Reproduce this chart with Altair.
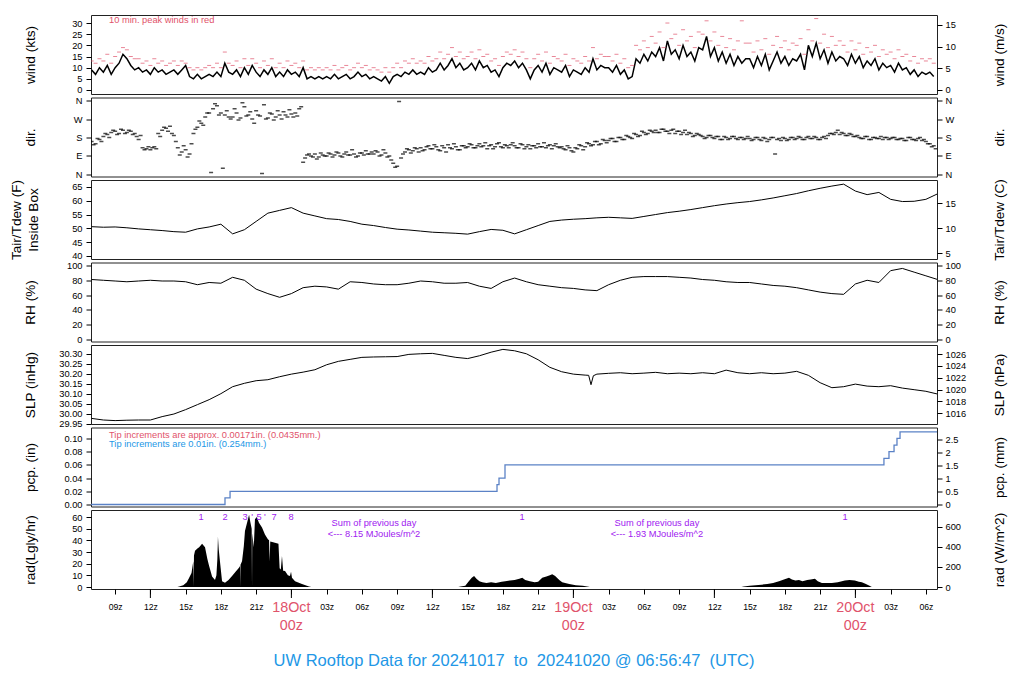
import altair as alt
import pandas as pd

# ---------------- data (hours since 17 Oct 00z UTC) ----------------
T_START, T_END = 6.946, 78.946

# wind speed (kts), 20-minute samples starting 07z 17 Oct
wind_kts = [
    9, 7, 10, 8, 11, 7, 10, 12, 16, 14, 11, 9,
    10, 8, 9, 7, 10, 8, 9, 7, 8, 9, 7, 9,
    11, 6, 5, 7, 5, 6, 7, 6, 8, 6, 12, 8,
    7, 9, 6, 10, 7, 11, 8, 6, 9, 7, 10, 6,
    8, 6, 9, 7, 8, 6, 10, 5, 6, 5, 6, 5,
    6, 5, 7, 5, 6, 7, 5, 6, 8, 6, 7, 5,
    6, 5, 4, 6, 3, 6, 7, 6, 8, 7, 9, 7,
    8, 7, 10, 8, 9, 12, 9, 11, 14, 10, 12, 9,
    10, 12, 9, 13, 10, 11, 8, 9, 6, 10, 12, 11,
    13, 10, 12, 9, 5, 9, 11, 8, 12, 7, 10, 9,
    8, 11, 6, 9, 8, 7, 10, 8, 14, 9, 11, 10,
    10, 8, 11, 7, 9, 5, 6, 14, 12, 16, 13, 17,
    15, 19, 13, 22, 16, 18, 14, 20, 15, 17, 13, 19,
    18, 24, 15, 19, 13, 17, 12, 16, 11, 15, 12, 14,
    14, 10, 15, 11, 16, 9, 13, 17, 12, 15, 11, 14,
    13, 16, 9, 20, 15, 21, 14, 18, 12, 17, 13, 15,
    14, 11, 16, 12, 15, 10, 13, 11, 14, 9, 12, 10,
    11, 8, 12, 9, 10, 7, 9, 6, 8, 7, 8, 6,
]
# 10-min peak winds (kts), same sample times
gust_kts = [
    13, 12, 14, 13, 16, 12, 15, 17, 19, 18, 15, 14,
    14, 12, 13, 11, 14, 12, 13, 11, 12, 13, 11, 13,
    12, 10, 9, 10, 9, 10, 11, 10, 12, 10, 17, 12,
    11, 13, 10, 14, 11, 14, 12, 10, 13, 11, 14, 10,
    12, 10, 13, 11, 12, 10, 13, 9, 10, 9, 10, 9,
    10, 9, 11, 9, 10, 11, 9, 10, 12, 10, 11, 9,
    10, 9, 8, 10, 8, 10, 12, 10, 13, 12, 14, 12,
    13, 12, 15, 13, 14, 17, 14, 16, 19, 15, 17, 14,
    15, 17, 14, 18, 15, 16, 13, 14, 11, 15, 17, 16,
    18, 15, 17, 14, 10, 14, 16, 13, 17, 12, 15, 14,
    13, 16, 11, 14, 13, 12, 15, 13, 19, 14, 16, 15,
    15, 13, 16, 12, 14, 10, 11, 20, 18, 22, 19, 24,
    21, 26, 19, 30, 23, 25, 20, 27, 22, 24, 19, 26,
    25, 31, 22, 26, 20, 24, 19, 23, 18, 22, 31, 21,
    21, 17, 22, 18, 23, 16, 20, 24, 19, 22, 18, 21,
    20, 23, 16, 27, 22, 32, 21, 25, 19, 24, 20, 22,
    20, 17, 22, 18, 21, 16, 19, 17, 20, 15, 18, 16,
    17, 14, 18, 15, 16, 13, 15, 12, 14, 13, 14, 12,
]
# wind direction (deg), samples at :00/:20/:40 and at :10/:30/:50
dir_a = [
    160, 150, 170, 185, 195, 205, 210, 200, 215, 205, 210, 200,
    170, 130, 125, 120, 135, 200, 215, 225, 235, 190, 130, 110,
    120, 100, 200, 230, 250, 280, 300, 320, 335, 300, 290, 280,
    280, 300, 275, 330, 290, 270, 310, 285, 340, 275, 295, 280,
    290, 305, 280, 295, 300, 320, 60, 95, 90, 100, 85, 95,
    90, 100, 95, 105, 85, 110, 95, 100, 90, 105, 115, 100,
    100, 110, 95, 105, 90, 55, 40, 80, 110, 120, 115, 125,
    130, 120, 140, 125, 135, 115, 130, 145, 125, 135, 120, 140,
    135, 145, 130, 150, 140, 125, 145, 135, 155, 130, 140, 145,
    140, 130, 145, 135, 125, 140, 150, 135, 130, 145, 140, 135,
    135, 120, 130, 110, 125, 140, 135, 150, 145, 160, 150, 165,
    165, 175, 160, 180, 170, 185, 175, 195, 190, 205, 200, 210,
    215, 205, 220, 210, 215, 200, 210, 205, 195, 200, 190, 195,
    185, 180, 190, 175, 185, 170, 180, 175, 185, 170, 180, 175,
    175, 170, 180, 165, 175, 170, 180, 170, 165, 175, 170, 180,
    175, 180, 170, 185, 175, 180, 170, 185, 190, 200, 205, 195,
    200, 190, 195, 185, 180, 175, 185, 170, 180, 175, 170, 180,
    175, 180, 170, 175, 165, 180, 170, 175, 165, 160, 150, 140,
]
dir_b = [
    145, 175, 160, 200, 180, 215, 195, 220, 200, 215, 195, 185,
    190, 120, 135, 130, 125, 185, 230, 210, 200, 160, 95, 140,
    85, 150, 220, 260, 240, 300, 10, 345, 290, 30, 310, 270,
    320, 265, 350, 285, 305, 250, 290, 5, 270, 300, 265, 310,
    270, 290, 315, 280, 285, 330, 80, 100, 85, 75, 105, 90,
    105, 85, 110, 90, 100, 95, 120, 85, 105, 95, 100, 110,
    115, 90, 120, 85, 70, 35, 355, 100, 125, 105, 130, 110,
    115, 135, 125, 145, 120, 140, 110, 130, 150, 120, 140, 130,
    150, 130, 140, 135, 155, 140, 125, 150, 135, 145, 130, 155,
    130, 150, 125, 145, 140, 130, 135, 155, 140, 125, 150, 130,
    125, 140, 115, 130, 145, 120, 155, 140, 160, 145, 170, 155,
    175, 160, 180, 170, 190, 180, 200, 185, 210, 195, 215, 205,
    205, 220, 210, 200, 220, 210, 195, 215, 205, 185, 200, 190,
    175, 190, 180, 185, 170, 185, 170, 185, 175, 180, 170, 185,
    165, 180, 170, 180, 160, 180, 100, 175, 180, 165, 180, 170,
    185, 170, 180, 175, 185, 170, 180, 175, 200, 195, 215, 205,
    190, 200, 185, 190, 175, 185, 170, 180, 175, 185, 180, 170,
    180, 170, 175, 165, 180, 170, 165, 180, 170, 150, 135, 125,
]

# hourly air temperature (F) and RH (%), 07z 17 Oct .. 07z 20 Oct
hourly_hours = list(range(7, 80))
temp_f = [
    50.6, 50.4, 50.5, 50.2, 49.8, 49.5, 49.2, 48.8, 48.6, 49.8, 50.5, 51.5,
    48.0, 49.5, 52.5, 55.5, 56.5, 57.5, 55.5, 54.5, 53.5, 53.2, 52.5, 51.5,
    51.0, 50.3, 49.7, 49.4, 49.0, 48.6, 48.4, 48.2, 47.9, 48.8, 49.6, 49.3,
    48.0, 49.5, 51.0, 52.5, 53.0, 53.3, 53.5, 53.8, 54.0, 53.8, 53.6, 54.3,
    55.0, 55.7, 56.2, 56.8, 57.5, 58.2, 58.8, 59.3, 59.7, 60.3, 61.0, 61.8,
    62.6, 63.6, 64.5, 65.3, 66.0, 63.5, 62.2, 63.0, 60.5, 59.7, 59.8, 60.5,
    62.5,
]
rh_pct = [
    81, 80, 79, 78, 79, 80, 79, 79, 78, 74, 77, 76,
    84, 80, 68, 62, 57, 62, 70, 72, 71, 68, 78, 77,
    75, 74, 74, 76, 79, 78, 76, 76, 77, 72, 69, 78,
    83, 78, 74, 72, 70, 69, 67, 66, 74, 80, 84, 85,
    85, 85, 84, 83, 81, 80, 78, 77, 77, 75, 73, 72,
    70, 67, 64, 62, 61, 75, 80, 77, 93, 96, 91, 86,
    81,
]
# sea level pressure (inHg)
slp_hours = list(range(7, 50)) + [49.3, 49.5, 49.7] + list(range(50, 80))
slp_inhg = [
    29.976, 29.968, 29.965, 29.967, 29.968, 29.968, 29.985, 29.998, 30.020,
    30.045, 30.070, 30.100, 30.135, 30.152, 30.165, 30.170, 30.185, 30.198,
    30.208, 30.220, 30.245, 30.262, 30.272, 30.282, 30.284, 30.285, 30.286,
    30.297, 30.300, 30.302, 30.292, 30.282, 30.276, 30.290, 30.308, 30.322,
    30.315, 30.300, 30.270, 30.232, 30.210, 30.198, 30.193,
    30.192, 30.145, 30.190,
    30.198, 30.202, 30.205, 30.200, 30.203, 30.207, 30.200, 30.203, 30.200,
    30.205, 30.200, 30.218, 30.205, 30.200, 30.205, 30.200, 30.203, 30.212,
    30.192, 30.155, 30.130, 30.135, 30.148, 30.138, 30.135, 30.140, 30.128,
    30.120, 30.112, 30.098,
]
# accumulated precipitation (in)
pcp_hours = [6.95, 18.35, 18.78, 41.5, 41.67, 42.18, 74.43, 74.86, 75.29, 75.54, 75.8, 78.95]
pcp_in = [0.0, 0.01, 0.02, 0.03, 0.04, 0.06, 0.07, 0.08, 0.09, 0.10, 0.11, 0.11]

# solar radiation (Langley/hr)
rad_hours = [
    6.95, 14.3, 14.45, 14.8, 15.1, 15.3, 15.5, 15.65, 15.69, 15.71, 15.8, 16.0,
    16.15, 16.4, 16.65, 16.85, 17.0, 17.25, 17.5, 17.62, 17.7, 17.75, 17.82,
    17.92, 18.1, 18.35, 18.65, 18.95, 19.25, 19.54, 19.63, 19.65, 19.67, 19.8,
    19.95, 20.05, 20.25, 20.4, 20.5, 20.62, 20.65, 20.67, 20.8, 20.9, 21.05,
    21.24, 21.5, 21.75, 22.0, 22.1, 22.15, 22.2, 22.6, 22.9, 23.0, 23.1, 23.2,
    23.3, 23.46, 23.7, 23.88, 23.97, 24.05, 24.31, 24.9, 25.5, 25.7,
    38.2, 38.4, 38.8, 39.1, 39.35, 39.55, 39.75, 40.0, 40.25, 40.6, 41.0, 41.4,
    41.9, 42.2, 42.6, 43.0, 43.4, 43.65, 43.9, 44.3, 44.7, 45.0, 45.35, 45.7,
    46.0, 46.2, 46.45, 46.8, 47.05, 47.3, 47.65, 48.2, 48.8, 49.3, 49.4,
    62.3, 62.5, 63.0, 63.5, 64.0, 64.5, 65.0, 65.5, 65.8, 66.1, 66.35, 66.6,
    66.9, 67.2, 67.5, 67.9, 68.2, 68.56, 68.8, 69.15, 69.6, 70.0, 70.5, 70.85,
    71.1, 71.5, 71.95, 72.3, 72.55, 72.9, 73.2, 73.4, 78.95,
]
rad_lgly = [
    0, 0, 0.5, 1.5, 4, 8, 12, 22, 0, 27, 31, 33,
    34, 37, 34, 24, 18, 9, 6, 10, 24, 43, 32,
    22, 5, 3.7, 6, 9.4, 13, 16.5, 18, 0, 19, 22,
    35, 48, 56, 62, 56, 50, 0, 46, 34, 58, 60,
    55, 51, 45, 41, 40, 22, 39, 38, 37, 16, 15, 26.5,
    14, 13.7, 10, 9.4, 13, 8, 5, 2.5, 0.5, 0,
    0, 0.5, 1, 5, 8, 9.5, 7, 5, 4, 3.5, 4, 3.5,
    4.5, 5, 5.5, 6, 7, 8, 6, 5, 4, 4.5, 8, 9,
    10, 11, 9.5, 6, 4, 3.5, 2.5, 1.5, 1, 0.3, 0,
    0, 0.5, 1, 1.5, 2, 2.5, 3.5, 5, 6, 7, 8, 6.5,
    5.5, 6, 5, 6, 6.5, 7, 5, 3.5, 3.5, 3.5, 4, 5,
    5.5, 6, 5.5, 4.5, 4, 2.5, 1, 0, 0,
]
rad_mark_hours = [16.31, 18.35, 20.05, 20.65, 21.24, 21.75, 22.52, 23.97, 43.63, 71.12]
rad_mark_labels = ["1", "2", "3", "'", "5", "'", "7", "8", "1", "1"]
sum_hours = [31.03, 55.11]
sum_labels = ["Sum of previous day\n<--- 8.15 MJoules/m^2", "Sum of previous day\n<--- 1.93 MJoules/m^2"]

day_hours = [24, 48, 72]
day_labels = ["18Oct\n00z", "19Oct\n00z", "20Oct\n00z"]
tick_hours = list(range(9, 79, 3))
major_tick_hours = [12, 24, 36, 48, 60, 72]
note_hour = 8.48

TITLE = "UW Rooftop Data for 20241017 \u00a0to \u00a020241020 @ 06:56:47 \u00a0(UTC)"

# ---------------- style ----------------
FONT = "Liberation Sans"
RED = "#DF536B"
BLUE = "#2297E6"
PURPLE = "#A020F0"
PCP_BLUE = "#5B82C6"
W, H = 846, 79.0

xscale = alt.Scale(domain=[T_START, T_END], nice=False, zero=False)


def X(axis=None):
    return alt.X("t:Q", scale=xscale, axis=axis)


def sc(lo, hi):
    return alt.Scale(domain=[lo, hi], nice=False, zero=False)


AX = dict(tickSize=5, tickColor="black", tickWidth=1, domain=False, grid=False,
          labelFontSize=9.3, labelColor="black", labelOverlap=False, labelFlush=False,
          titleFontSize=13.6, titleFontWeight="normal", titleColor="black",
          titleAngle=270, titleBaseline="middle", titleLineHeight=17)


def left_axis(title, values, tx=-61, **kw):
    return alt.Axis(title=title, values=values, orient="left", labelPadding=4, titleX=tx, **AX, **kw)


def right_layer(title, lo, hi, values, xax=None, **kw):
    df = pd.DataFrame({"t": [T_START] * len(values), "r": values})
    ax = alt.Axis(title=title, values=values, orient="right", labelPadding=3, titleX=62, **AX, **kw)
    return alt.Chart(df).mark_point(opacity=0, size=1).encode(x=X(xax), y=alt.Y("r:Q", scale=sc(lo, hi), axis=ax))


def panel(*layers):
    return alt.layer(*layers).resolve_scale(y="independent").properties(width=W, height=H)


# ---- wind ----
wind_hours = [7 + i / 3 for i in range(len(wind_kts))]
wdf = pd.DataFrame({"t": wind_hours, "v": wind_kts})
gdf = pd.DataFrame({"t": wind_hours, "v": gust_kts})
WD = (-1.8, 33.6)
p1 = panel(
    alt.Chart(wdf).mark_line(color="black", strokeWidth=1.5, clip=True).encode(
        x=X(), y=alt.Y("v:Q", scale=sc(*WD), axis=left_axis("wind (kts)", [0, 5, 10, 15, 20, 25, 30]))),
    alt.Chart(gdf).mark_tick(color=RED, orient="horizontal", size=4, thickness=1, clip=True).encode(
        x=X(), y=alt.Y("v:Q", scale=sc(*WD), axis=None)),
    alt.Chart(pd.DataFrame({"t": [note_hour], "s": ["10 min. peak winds in red"]})).mark_text(
        align="left", baseline="middle", fontSize=9.3, color=RED).encode(x=X(), y=alt.value(5), text="s:N"),
    right_layer("wind (m/s)", -0.926, 17.28, [0, 5, 10, 15]),
)

# ---- direction ----
dir_hours = wind_hours + [h + 1 / 6 for h in wind_hours]
ddf = pd.DataFrame({"t": dir_hours, "v": dir_a + dir_b})
DD = (-10, 375)
dir_expr = "datum.value == 90 ? 'E' : datum.value == 180 ? 'S' : datum.value == 270 ? 'W' : 'N'"
p2 = panel(
    alt.Chart(ddf).mark_tick(color="black", orient="horizontal", size=4, thickness=1.5, clip=True).encode(
        x=X(), y=alt.Y("v:Q", scale=sc(*DD), axis=left_axis("dir.", [0, 90, 180, 270, 360], labelExpr=dir_expr))),
    right_layer("dir.", DD[0], DD[1], [0, 90, 180, 270, 360], labelExpr=dir_expr),
)

# ---- temperature ----
tdf = pd.DataFrame({"t": hourly_hours, "v": temp_f})
p3 = panel(
    alt.Chart(tdf).mark_line(color="black", strokeWidth=1, clip=True).encode(
        x=X(), y=alt.Y("v:Q", scale=sc(38.9, 67.5),
                       axis=left_axis(["Tair/Tdew (F)", "Inside Box"], [40, 45, 50, 55, 60, 65], tx=-75))),
    right_layer("Tair/Tdew (C)", 3.83, 19.72, [5, 10, 15]),
)

# ---- RH ----
hdf = pd.DataFrame({"t": hourly_hours, "v": rh_pct})
p4 = panel(
    alt.Chart(hdf).mark_line(color="black", strokeWidth=1, clip=True).encode(
        x=X(), y=alt.Y("v:Q", scale=sc(-2.7, 104), axis=left_axis("RH (%)", [0, 20, 40, 60, 80, 100]))),
    right_layer("RH (%)", -2.7, 104, [0, 20, 40, 60, 80, 100]),
)

# ---- SLP ----
sdf = pd.DataFrame({"t": slp_hours, "v": slp_inhg})
p5 = panel(
    alt.Chart(sdf).mark_line(color="black", strokeWidth=1, clip=True).encode(
        x=X(), y=alt.Y("v:Q", scale=sc(29.948, 30.344),
                       axis=left_axis("SLP (inHg)", [29.95, 30.0, 30.05, 30.1, 30.15, 30.2, 30.25, 30.3], format=".2f"))),
    right_layer("SLP (hPa)", 1014.15, 1027.56, [1016, 1018, 1020, 1022, 1024, 1026], format="d"),
)

# ---- precipitation ----
pdf = pd.DataFrame({"t": pcp_hours, "v": pcp_in})
notes = pd.DataFrame({"t": [note_hour, note_hour],
                      "s": ["Tip increments are approx. 0.00171in. (0.0435mm.)", "Tip increments are 0.01in. (0.254mm.)"],
                      "c": [RED, BLUE], "yy": [7, 16]})
p6 = panel(
    alt.Chart(pdf).mark_line(color=PCP_BLUE, strokeWidth=1.3, interpolate="step-after", clip=True).encode(
        x=X(), y=alt.Y("v:Q", scale=sc(-0.003, 0.1166),
                       axis=left_axis("pcp. (in)", [0, 0.02, 0.04, 0.06, 0.08, 0.10], format=".2f"))),
    alt.Chart(notes).mark_text(align="left", baseline="middle", fontSize=9.3).encode(
        x=X(), y=alt.Y("yy:Q", scale=None), text="s:N", color=alt.Color("c:N", scale=None)),
    right_layer("pcp. (mm)", -0.076, 2.962, [0, 0.5, 1, 1.5, 2, 2.5], format="~g"),
)

# ---- radiation ----
rdf = pd.DataFrame({"t": rad_hours, "v": rad_lgly})
mdf = pd.DataFrame({"t": rad_mark_hours, "s": rad_mark_labels})
sumdf = pd.DataFrame({"t": sum_hours, "s": sum_labels})
daydf = pd.DataFrame({"t": day_hours, "s": day_labels})
majdf = pd.DataFrame({"t": major_tick_hours})
xlab = "datum.value % 24 == 0 ? '' : ((datum.value % 24) < 10 ? '0' : '') + (datum.value % 24) + 'z'"
xaxis = alt.Axis(values=tick_hours, labelExpr=xlab, tickSize=5, tickColor="black", labelPadding=8,
                 labelFontSize=8.7, labelColor="black", domain=False, grid=False, title=None,
                 labelOverlap=False, labelFlush=False)
p7 = panel(
    alt.Chart(rdf).mark_area(color="black", clip=True).encode(
        x=X(xaxis), y=alt.Y("v:Q", scale=sc(-1.7, 66), stack=None,
                            axis=left_axis("rad(Lgly/hr)", [0, 10, 20, 30, 40, 50, 60])),
        y2=alt.datum(0)),
    alt.Chart(mdf).mark_text(baseline="middle", fontSize=9.3, color=PURPLE).encode(
        x=X(xaxis), y=alt.value(6.6), text="s:N"),
    alt.Chart(sumdf).mark_text(baseline="middle", fontSize=9.3, color=PURPLE, lineBreak="\n", lineHeight=11).encode(
        x=X(xaxis), y=alt.value(13), text="s:N"),
    alt.Chart(majdf).mark_rule(color="black", clip=False).encode(
        x=X(xaxis), y=alt.value(H), y2=alt.value(H + 9)),
    alt.Chart(daydf).mark_text(baseline="top", fontSize=14.3, color=RED, lineBreak="\n", lineHeight=18).encode(
        x=X(xaxis), y=alt.value(H + 12), text="s:N"),
    alt.Chart(pd.DataFrame({"s": [TITLE]})).mark_text(baseline="middle", fontSize=16.5, color=BLUE).encode(
        x=alt.value(W / 2), y=alt.value(H + 72), text="s:N"),
    right_layer("rad (W/m^2)", -19.8, 767.6, [0, 200, 400, 600], xax=xaxis),
)

chart = (
    alt.vconcat(p1, p2, p3, p4, p5, p6, p7, spacing=3.5, bounds="flush")
    .resolve_scale(x="independent", y="independent")
    .properties(padding={"left": 0, "top": 6, "right": 4, "bottom": 4}, background="white")
    .configure(font=FONT)
    .configure_view(stroke="#222222", strokeWidth=1)
)

chart.save("out.html", embed_options={"renderer": "svg", "actions": False})
